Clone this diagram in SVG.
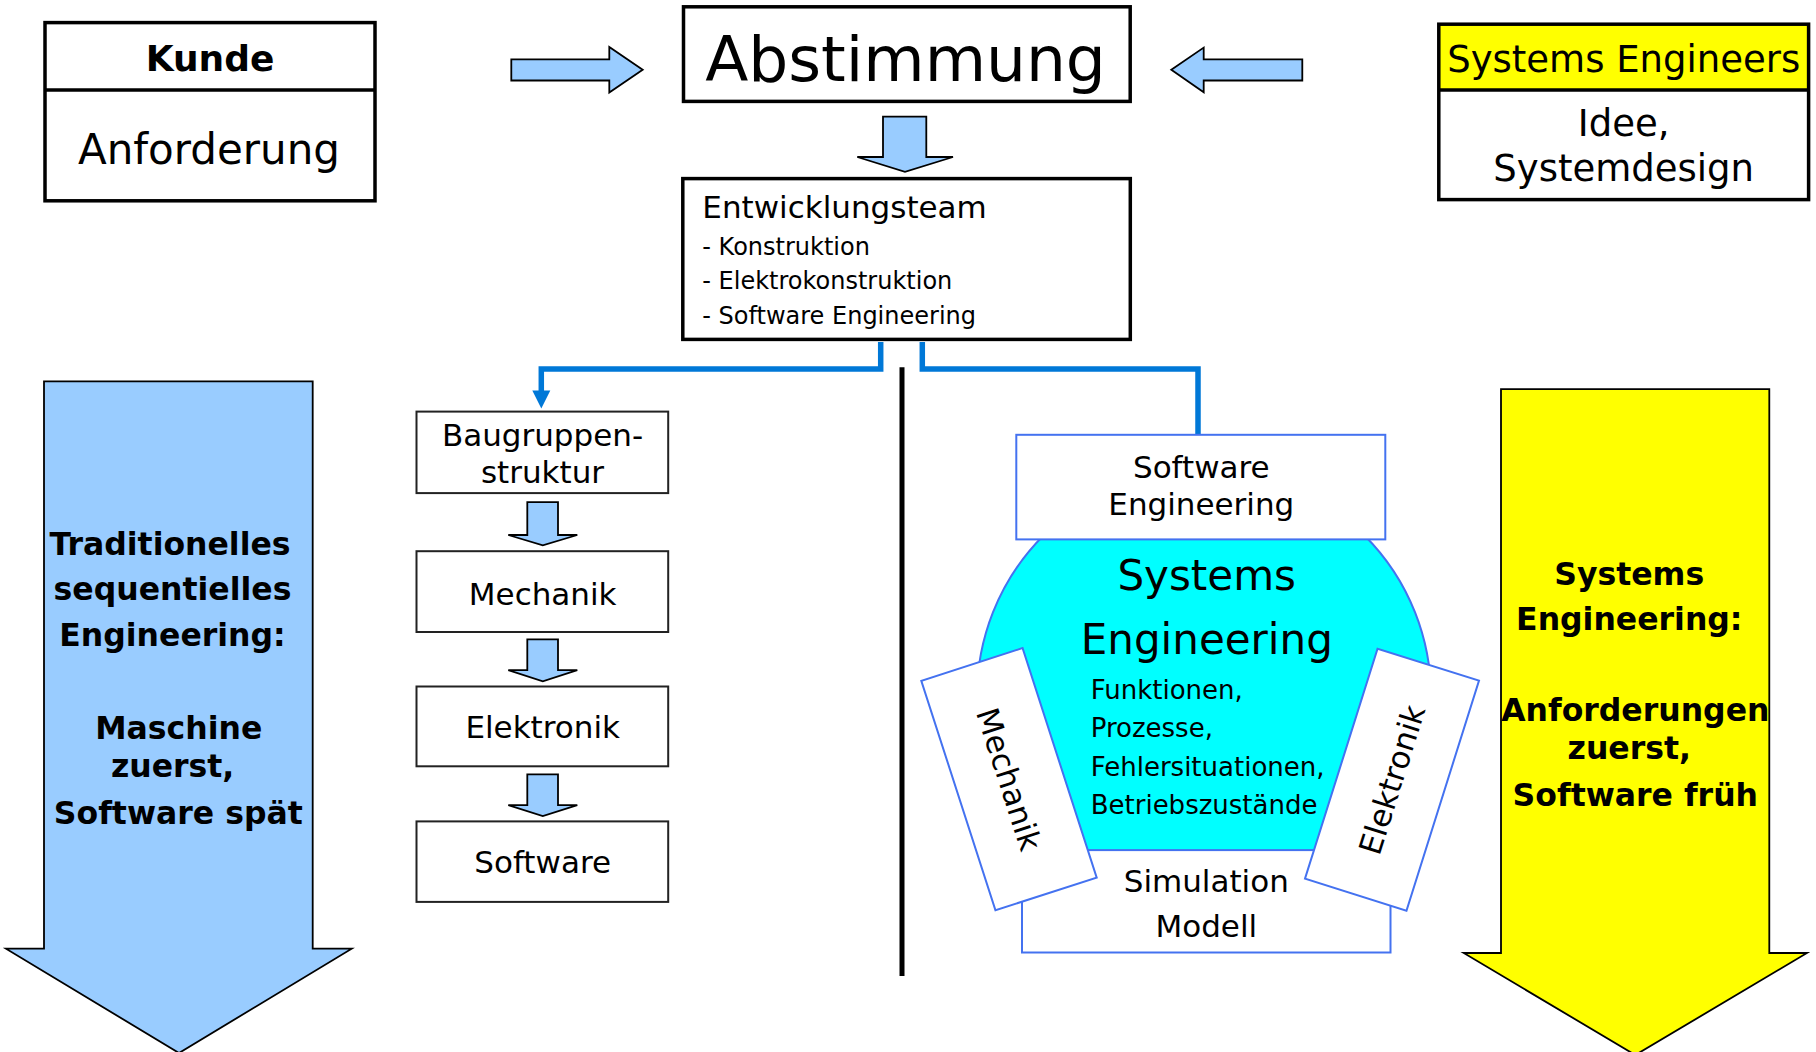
<svg xmlns="http://www.w3.org/2000/svg" width="1816" height="1052" viewBox="0 0 1816 1052">
<style>
text{font-family:"DejaVu Sans",Verdana,sans-serif;fill:#000}
.c{text-anchor:middle}
.b{font-weight:bold}
.thick{fill:#fff;stroke:#000;stroke-width:3.5}
.thin{fill:#fff;stroke:#222;stroke-width:2}
.blue{fill:#fff;stroke:#4472F0;stroke-width:2}
.arr{fill:#99CCFF;stroke:#000;stroke-width:1.8;stroke-linejoin:miter}
.conn{fill:none;stroke:#0078D7;stroke-width:5.5}
</style>
<g id="kunde">
<rect class="thick" x="45" y="22.6" width="330" height="178.2"/>
<line x1="45" y1="89.9" x2="375" y2="89.9" stroke="#000" stroke-width="3.5"/>
<text class="c b" x="210" y="71.2" font-size="36">Kunde</text>
<text class="c" x="209" y="164" font-size="42">Anforderung</text>
</g>
<g id="arrow-right"><polygon class="arr" points="511.3,59.4 609.3,59.4 609.3,47 642.7,69.7 609.3,92.6 609.3,80.5 511.3,80.5"/></g>
<g id="abstimmung">
<rect class="thick" x="683.5" y="6.8" width="446.7" height="94.6"/>
<text class="c" x="905.5" y="80.5" font-size="63">Abstimmung</text>
</g>
<g id="arrow-left"><polygon class="arr" points="1302.3,59.4 1203.7,59.4 1203.7,47.6 1171.3,69.7 1203.7,92.3 1203.7,80.5 1302.3,80.5"/></g>
<g id="systems-engineers">
<rect x="1438.8" y="24.2" width="369.8" height="65.7" fill="#FFFF00"/>
<rect x="1438.8" y="24.2" width="369.8" height="175.4" fill="none" stroke="#000" stroke-width="3.5"/>
<line x1="1438.8" y1="89.9" x2="1808.6" y2="89.9" stroke="#000" stroke-width="3.5"/>
<text class="c" x="1623.7" y="72.2" font-size="37">Systems Engineers</text>
<text class="c" x="1623.7" y="135.9" font-size="37">Idee,</text>
<text class="c" x="1623.7" y="181.2" font-size="37">Systemdesign</text>
</g>
<g id="arrow-down-top"><polygon class="arr" points="883,116.7 926.3,116.7 926.3,157 953,157 905,171.8 857.3,157 883,157"/></g>
<g id="entwicklungsteam">
<rect class="thick" x="682.8" y="178.6" width="447.5" height="160.8"/>
<text x="702.3" y="218" font-size="31">Entwicklungsteam</text>
<text x="702.3" y="254.9" font-size="24">- Konstruktion</text>
<text x="702.3" y="289.1" font-size="24">- Elektrokonstruktion</text>
<text x="702.3" y="323.8" font-size="24">- Software Engineering</text>
</g>
<g id="connectors">
<polyline class="conn" points="880.7,342 880.7,369 541.3,369 541.3,392"/>
<polygon points="532.3,390.5 550.3,390.5 541.3,408.6" fill="#0078D7"/>
<polyline class="conn" points="922.3,342 922.3,369 1198,369 1198,434"/>
<line x1="902" y1="367.3" x2="902" y2="975.9" stroke="#000" stroke-width="5"/>
</g>
<g id="arrow-traditionell">
<polygon class="arr" points="44,381.4 312.7,381.4 312.7,948.7 351.7,948.7 179,1053 6,948.7 44,948.7"/>
<text class="c b" font-size="31.5" x="170" y="554.5">Traditionelles</text>
<text class="c b" font-size="31.5" x="172.5" y="599.8">sequentielles</text>
<text class="c b" font-size="31.5" x="172.5" y="645.8">Engineering:</text>
<text class="c b" font-size="31.5" x="178.8" y="738.9">Maschine</text>
<text class="c b" font-size="31.5" x="172.6" y="776.6">zuerst,</text>
<text class="c b" font-size="31.5" x="178.3" y="823.9">Software spät</text>
</g>
<g id="arrow-systems">
<polygon class="arr" style="fill:#FFFF00" points="1501,389.2 1769.3,389.2 1769.3,953 1807,953 1635.3,1055 1463.7,953 1501,953"/>
<text class="c b" font-size="31.5" x="1629.2" y="584.7">Systems</text>
<text class="c b" font-size="31.5" x="1629.3" y="630">Engineering:</text>
<text class="c b" font-size="31.5" x="1635.3" y="721.2">Anforderungen</text>
<text class="c b" font-size="31.5" x="1629.3" y="759.2">zuerst,</text>
<text class="c b" font-size="31.5" x="1635.3" y="806.1">Software früh</text>
</g>
<g id="baugruppen">
<rect class="thin" x="416.5" y="411.6" width="251.7" height="81.5"/>
<text class="c" x="542.5" y="446.1" font-size="31">Baugruppen-</text>
<text class="c" x="542.5" y="483.1" font-size="31">struktur</text>
</g>
<g id="arrow-s1"><polygon class="arr" points="527.3,502.2 558,502.2 558,535 577.3,535 542.8,545.3 508.3,535 527.3,535"/></g>
<g id="mechanik-box">
<rect class="thin" x="416.5" y="551.2" width="251.7" height="80.8"/>
<text class="c" x="542.7" y="604.8" font-size="31">Mechanik</text>
</g>
<g id="arrow-s2"><polygon class="arr" points="527.3,639.4 558,639.4 558,670.2 577.3,670.2 542.8,681.3 508.3,670.2 527.3,670.2"/></g>
<g id="elektronik-box">
<rect class="thin" x="416.5" y="686.5" width="251.7" height="79.8"/>
<text class="c" x="542.7" y="738.3" font-size="31">Elektronik</text>
</g>
<g id="arrow-s3"><polygon class="arr" points="527.3,774.3 558,774.3 558,805.1 577.3,805.1 542.8,816.1 508.3,805.1 527.3,805.1"/></g>
<g id="software-box">
<rect class="thin" x="416.5" y="821.4" width="251.7" height="80.5"/>
<text class="c" x="542.7" y="873.2" font-size="31">Software</text>
</g>
<g id="systems-engineering">
<circle cx="1204" cy="696" r="227" fill="#00FFFF" stroke="#4472F0" stroke-width="2"/>
</g>
<g id="software-engineering">
<rect class="blue" x="1016.3" y="434.8" width="369" height="104.6"/>
<text class="c" x="1201.3" y="478" font-size="31">Software</text>
<text class="c" x="1201.3" y="515" font-size="31">Engineering</text>
</g>
<g id="simulation">
<rect class="blue" x="1022" y="850.1" width="368.5" height="102.4"/>
<text class="c" x="1206.3" y="891.6" font-size="31">Simulation</text>
<text class="c" x="1206.3" y="937" font-size="31">Modell</text>
</g>
<g id="se-text">
<text class="c" x="1206.7" y="590.4" font-size="42">Systems</text>
<text class="c" x="1206.8" y="653.5" font-size="42">Engineering</text>
<text x="1090.7" y="698.8" font-size="26">Funktionen,</text>
<text x="1090.7" y="737.3" font-size="26">Prozesse,</text>
<text x="1090.7" y="775.9" font-size="26">Fehlersituationen,</text>
<text x="1090.7" y="813.8" font-size="26">Betriebszustände</text>
</g>
<g id="mechanik" transform="translate(1009,779.2) rotate(72.1)">
<rect class="blue" x="-120.6" y="-53.2" width="241.2" height="106.4"/>
<text class="c" x="0" y="11" font-size="31">Mechanik</text>
</g>
<g id="elektronik" transform="translate(1392,779.7) rotate(-72.5)">
<rect class="blue" x="-120.6" y="-53.2" width="241.2" height="106.4"/>
<text class="c" x="0" y="11" font-size="31">Elektronik</text>
</g>
</svg>
